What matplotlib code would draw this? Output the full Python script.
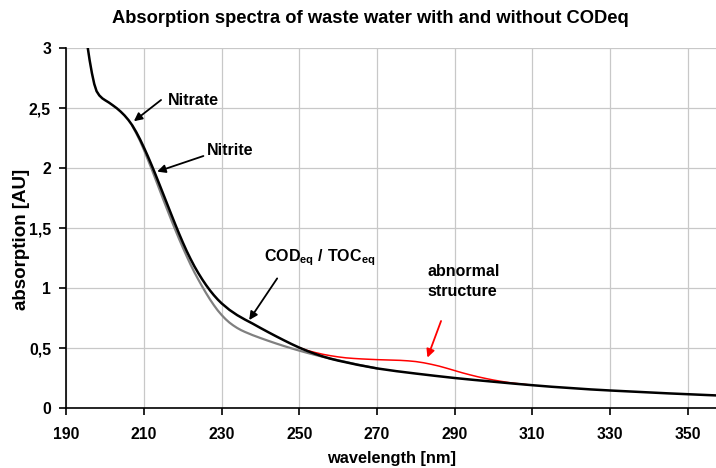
import matplotlib
matplotlib.use("Agg")
import matplotlib.pyplot as plt
from matplotlib.ticker import FuncFormatter

plt.rcParams['font.family'] = ['Liberation Sans', 'DejaVu Sans']
plt.rcParams['font.weight'] = 'bold'
plt.rcParams['mathtext.fontset'] = 'custom'
plt.rcParams['mathtext.rm'] = 'Liberation Sans:bold'
plt.rcParams['mathtext.bf'] = 'Liberation Sans:bold'
plt.rcParams['mathtext.it'] = 'Liberation Sans:bold'

# Black curve: waste water with CODeq
wl_black = [195.3, 196.0, 196.6, 197.2, 197.8, 198.5, 199.3, 200, 201, 202, 203, 204, 205, 206, 207,
            208, 209, 210, 211, 212, 213, 214, 215, 216, 217, 218, 219, 220, 221, 222, 223, 224,
            225, 226, 227, 228, 229, 230, 232, 234, 236, 237, 238, 240, 242, 244, 246, 248, 250,
            252, 254, 256, 258, 260, 265, 270, 275, 280, 285, 290, 295, 300, 305, 310, 315, 320,
            325, 330, 335, 340, 345, 350, 355, 358]
abs_black = [3.05, 2.90, 2.79, 2.70, 2.64, 2.605, 2.58, 2.565, 2.545, 2.522, 2.498, 2.47, 2.438, 2.40, 2.355,
             2.30, 2.238, 2.17, 2.098, 2.022, 1.943, 1.862, 1.78, 1.698, 1.616, 1.535, 1.456, 1.38, 1.308, 1.242, 1.18, 1.124,
             1.072, 1.024, 0.98, 0.94, 0.904, 0.872, 0.818, 0.774, 0.737, 0.72, 0.703, 0.667, 0.632, 0.598, 0.565, 0.533, 0.503,
             0.476, 0.452, 0.43, 0.411, 0.395, 0.36, 0.33, 0.307, 0.287, 0.268, 0.25, 0.234, 0.219, 0.204, 0.19, 0.177, 0.166,
             0.155, 0.146, 0.138, 0.13, 0.122, 0.115, 0.108, 0.104]

# Gray curve: without CODeq
wl_gray = [207, 208, 209, 210, 211, 212, 213, 214, 215, 216, 217, 218, 219, 220, 221, 222, 223, 224,
           225, 226, 227, 228, 229, 230, 231, 232, 233, 234, 235, 236, 238, 240, 242, 244, 246, 248, 250,
           252, 254, 256, 258, 260, 265, 270]
abs_gray = [2.35, 2.29, 2.225, 2.15, 2.07, 1.99, 1.905, 1.82, 1.735, 1.652, 1.57, 1.49, 1.412, 1.337, 1.265, 1.195, 1.13, 1.07,
            1.012, 0.957, 0.905, 0.857, 0.813, 0.775, 0.741, 0.712, 0.688, 0.667, 0.649, 0.634, 0.607, 0.583, 0.56, 0.538, 0.517, 0.497, 0.478,
            0.46, 0.443, 0.427, 0.412, 0.398, 0.362, 0.33]

# Red curve: abnormal structure
wl_red = [250, 252, 254, 256, 258, 260, 262, 264, 266, 268, 270, 272, 274, 276, 278, 280, 282, 284,
          286, 288, 290, 292, 294, 296, 298, 300, 302, 304, 306, 308, 310]
abs_red = [0.503, 0.48, 0.463, 0.448, 0.436, 0.426, 0.418, 0.413, 0.409, 0.406, 0.403, 0.401, 0.399, 0.397, 0.393, 0.387,
           0.377, 0.364, 0.349, 0.331, 0.312, 0.293, 0.276, 0.26, 0.246, 0.233, 0.222, 0.212, 0.204, 0.197, 0.19]

x_ticks = [190, 210, 230, 250, 270, 290, 310, 330, 350]
y_ticks = [0, 0.5, 1, 1.5, 2, 2.5, 3]

fig = plt.figure(figsize=(7.16, 4.68), dpi=100)
ax = fig.add_axes([0.0926, 0.1282, 0.9074, 0.7692])

ax.plot(wl_gray, abs_gray, color='#808080', lw=1.6, zorder=3)
ax.plot(wl_red, abs_red, color='#ff0000', lw=1.1, zorder=4)
ax.plot(wl_black, abs_black, color='black', lw=1.8, zorder=5)

ax.set_xlim(190, 357.3)
ax.set_ylim(0, 3)
ax.set_xticks(x_ticks)
ax.set_yticks(y_ticks)
ax.yaxis.set_major_formatter(FuncFormatter(lambda v, p: ('%g' % v).replace('.', ',')))
ax.grid(True, color='#c8c8c8', lw=0.9)
ax.set_axisbelow(True)
for s in ['top', 'right']:
    ax.spines[s].set_visible(False)
ax.spines['left'].set_linewidth(1.2)
ax.spines['bottom'].set_linewidth(1.2)
ax.tick_params(axis='both', direction='out', length=5, width=1.2, labelsize=11.3)
ax.tick_params(axis='x', pad=9)
ax.tick_params(axis='y', pad=6)
for lab in ax.get_xticklabels() + ax.get_yticklabels():
    lab.set_fontweight('bold')

ax.set_xlabel('wavelength [nm]', fontsize=11.8, fontweight='bold', labelpad=6)
ax.set_ylabel('absorption [AU]', fontsize=13.5, fontweight='bold')
ax.yaxis.set_label_coords(-0.056, 0.467)
fig.text(0.517, 0.9615, 'Absorption spectra of waste water with and without CODeq',
         ha='center', va='center', fontsize=13.2, fontweight='bold')

fs = 11.5
arrow_k = dict(arrowstyle='-|>', color='black', lw=1.3, mutation_scale=12, shrinkA=0, shrinkB=0)
ax.annotate('', xy=(207.4, 2.39), xytext=(214.4, 2.567), arrowprops=arrow_k, zorder=6)
ax.text(216.2, 2.56, 'Nitrate', fontsize=fs, fontweight='bold', va='center', ha='left')
ax.annotate('', xy=(213.4, 1.97), xytext=(225.3, 2.10), arrowprops=arrow_k, zorder=6)
ax.text(226.1, 2.15, 'Nitrite', fontsize=fs, fontweight='bold', va='center', ha='left')
ax.annotate('', xy=(237.1, 0.733), xytext=(244.3, 1.08), arrowprops=arrow_k, zorder=6)
ax.text(241.0, 1.25, r'$\mathregular{COD_{eq}\ /\ TOC_{eq}}$', fontsize=fs, va='center', ha='left')
arrow_r = dict(arrowstyle='-|>', color='#ff0000', lw=1.3, mutation_scale=12, shrinkA=0, shrinkB=0)
ax.annotate('', xy=(283.0, 0.42), xytext=(286.5, 0.725), arrowprops=arrow_r, zorder=6)
ax.text(283.0, 1.136, 'abnormal', fontsize=fs, fontweight='bold', va='center', ha='left')
ax.text(283.0, 0.97, 'structure', fontsize=fs, fontweight='bold', va='center', ha='left')

fig.savefig('out.png', dpi=100)
